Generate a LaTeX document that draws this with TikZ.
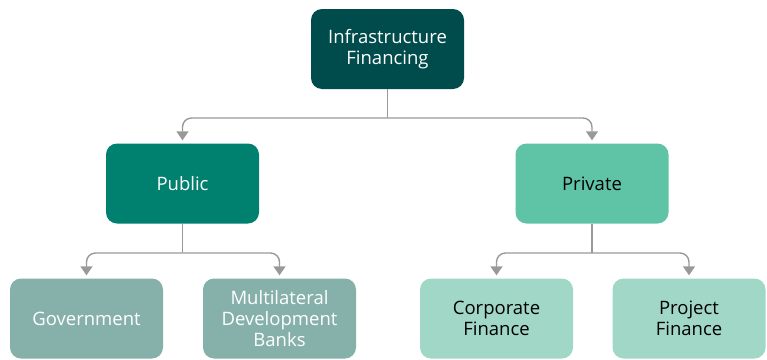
\documentclass[tikz,border=0pt]{standalone}
\usepackage{fontspec}
\setmainfont{Open Sans}
\usetikzlibrary{arrows.meta}
\definecolor{cTop}{HTML}{004B4B}
\definecolor{cPub}{HTML}{00806F}
\definecolor{cPri}{HTML}{5FC4A6}
\definecolor{cPubL}{HTML}{86B1AB}
\definecolor{cPriL}{HTML}{A1D7C6}
\definecolor{cLine}{HTML}{999999}
\tikzset{
  box/.style={rounded corners=11pt, minimum width=153pt, minimum height=80pt, align=center,
    inner sep=2pt, font=\fontsize{18.5}{21}\selectfont},
  conn/.style={draw=cLine, line width=1.4pt, rounded corners=9pt,
    -{Triangle[width=12pt,length=9pt]}, shorten >=3pt},
  stem/.style={draw=cLine, line width=1.4pt}
}
\begin{document}
\begin{tikzpicture}[x=1pt,y=-1pt]
\useasboundingbox (0,0) rectangle (767,359);
\node[box, fill=cTop, text=white] (top) at (387.5,49) {Infrastructure\\Financing};
\node[box, fill=cPub, text=white] (pub) at (182.5,183.5) {Public};
\node[box, fill=cPri, text=black] (pri) at (592,183.5) {Private};
\node[box, fill=cPubL, text=white] (gov) at (86.5,318.5) {Government};
\node[box, fill=cPubL, text=white] (mdb) at (279.5,318.5) {Multilateral\\Development\\Banks};
\node[box, fill=cPriL, text=black] (corp) at (496.5,318.5) {Corporate\\Finance};
\node[box, fill=cPriL, text=black] (proj) at (689,318.5) {Project\\Finance};
\coordinate (j1) at (387.5,118);
\coordinate (j2) at (182.5,253);
\coordinate (j3) at (592,253);
\draw[stem] (top.south) -- (j1);
\draw[conn] (j1) -| (pub.north);
\draw[conn] (j1) -| (pri.north);
\draw[stem] (pub.south) -- (j2);
\draw[conn] (j2) -| (gov.north);
\draw[conn] (j2) -| (mdb.north);
\draw[stem] (pri.south) -- (j3);
\draw[conn] (j3) -| (corp.north);
\draw[conn] (j3) -| (proj.north);
\end{tikzpicture}
\end{document}
